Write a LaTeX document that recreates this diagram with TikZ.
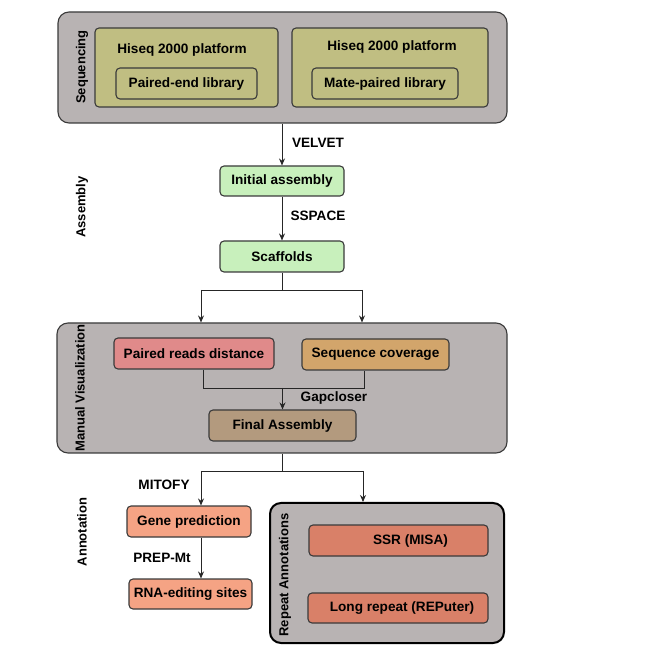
\documentclass[tikz,border=0pt]{standalone}
\usepackage{fontspec}
\setmainfont{Liberation Sans}
\usetikzlibrary{arrows.meta}
\definecolor{outergray}{HTML}{B8B3B3}
\definecolor{olivebox}{HTML}{C0BE82}
\definecolor{greenbox}{HTML}{C8F0BC}
\definecolor{pinkbox}{HTML}{E08A8A}
\definecolor{tanbox}{HTML}{D2A56B}
\definecolor{brownbox}{HTML}{B39A7E}
\definecolor{salmonbox}{HTML}{F5A384}
\definecolor{redbox}{HTML}{D98068}
\definecolor{edge}{HTML}{3A3A3A}
\tikzset{
  bx/.style={draw=edge, line width=1.1pt, rounded corners=4pt, font=\bfseries\fontsize{13.6}{16}\selectfont, inner sep=0pt},
  outer/.style={draw=edge, line width=1.1pt, rounded corners=11pt, fill=outergray, inner sep=0pt},
  lbl/.style={font=\bfseries\fontsize{13.6}{16}\selectfont, inner sep=0pt},
  side/.style={font=\bfseries\fontsize{13}{16}\selectfont, rotate=90, inner sep=0pt},
  conn/.style={draw=black!85, line width=0.9pt},
  arr/.style={conn, -{Stealth[length=7pt,width=6pt]}}
}
\begin{document}
\begin{tikzpicture}[x=1pt,y=-1pt]
\useasboundingbox (0,0) rectangle (657,647);
% Sequencing
\node[outer, minimum width=449pt, minimum height=111pt] (seq) at (282.5,67.5) {};
\node[bx, fill=olivebox, minimum width=183pt, minimum height=79pt] (hl) at (186.5,67.5) {};
\node[bx, fill=olivebox, minimum width=196pt, minimum height=79pt] (hr) at (390,67.5) {};
\node[lbl] (hlt) at (182,50) {Hiseq 2000 platform};
\node[lbl] (hrt) at (392,47) {Hiseq 2000 platform};
\node[bx, fill=olivebox, minimum width=141pt, minimum height=31pt] (pe) at (186.5,83.5) {Paired-end library};
\node[bx, fill=olivebox, minimum width=146pt, minimum height=31pt] (mp) at (385,83.5) {Mate-paired library};
\node[side] (sqlab) at (82,67) {Sequencing};
% Assembly
\node[side] (aslab) at (82,207) {Assembly};
\node[bx, fill=greenbox, minimum width=124pt, minimum height=30pt] (ia) at (282,181) {Initial assembly};
\node[bx, fill=greenbox, minimum width=124pt, minimum height=31pt] (sc) at (282,256.5) {Scaffolds};
\node[lbl] (velvet) at (318,143) {VELVET};
\node[lbl] (sspace) at (318,216) {SSPACE};
\draw[arr] (seq.south -| ia.north) -- (ia.north);
\draw[arr] (ia) -- (sc);
% Manual visualization
\node[outer, minimum width=450pt, minimum height=130pt] (mv) at (282,388) {};
\node[side] (mvlab) at (80,388) {Manual Visualization};
\node[bx, fill=pinkbox, minimum width=160pt, minimum height=31pt] (prd) at (194,353.5) {Paired reads distance};
\node[bx, fill=tanbox, minimum width=147pt, minimum height=31pt] (cov) at (375.5,354.5) {Sequence coverage};
\node[bx, fill=brownbox, minimum width=147pt, minimum height=31pt] (fa) at (282.5,425.5) {Final Assembly};
\node[lbl] (gap) at (334,398) {Gapcloser};
\coordinate (j1) at (282,290);
\coordinate (j1l) at (201,290);
\coordinate (j1r) at (362,290);
\draw[conn] (sc.south) -- (j1);
\draw[conn] (j1l) -- (j1r);
\draw[arr] (j1l) -- (j1l |- mv.north);
\draw[arr] (j1r) -- (j1r |- mv.north);
\coordinate (j2l) at (203,388);
\coordinate (j2r) at (364,388);
\draw[conn] (j2l |- prd.south) -- (j2l) -- (j2r) -- (j2r |- cov.south);
\draw[arr] (fa.north |- j2l) -- (fa.north);
% Annotation
\node[side] (anlab) at (82,532) {Annotation};
\node[bx, fill=salmonbox, minimum width=124pt, minimum height=31pt] (gp) at (189,521.5) {Gene prediction};
\node[bx, fill=salmonbox, minimum width=123pt, minimum height=30pt] (rna) at (190.5,594) {RNA-editing sites};
\node[lbl] (mitofy) at (164,485) {MITOFY};
\node[lbl] (prep) at (162,558) {PREP-Mt};
\node[draw=black, line width=2pt, rounded corners=11pt, fill=outergray, minimum width=234pt, minimum height=140pt, inner sep=0pt] (rep) at (387,573) {};
\node[side] (replab) at (285,575) {Repeat Annotations};
\node[bx, fill=redbox, minimum width=179pt, minimum height=31pt] (ssr) at (398.5,540.5) {\hspace{24pt}SSR (MISA)};
\node[bx, fill=redbox, minimum width=180pt, minimum height=30pt] (lr) at (398,608) {\hspace{8pt}Long repeat (REPuter)};
\coordinate (j3) at (282,471);
\coordinate (j3l) at (201,471);
\coordinate (j3r) at (363,471);
\draw[conn] (mv.south) -- (j3);
\draw[conn] (j3l) -- (j3r);
\draw[arr] (j3l) -- (j3l |- gp.north);
\draw[arr] (j3r) -- (j3r |- rep.north);
\draw[arr] (gp.south -| j3l) -- (rna.north -| j3l);
\end{tikzpicture}
\end{document}
